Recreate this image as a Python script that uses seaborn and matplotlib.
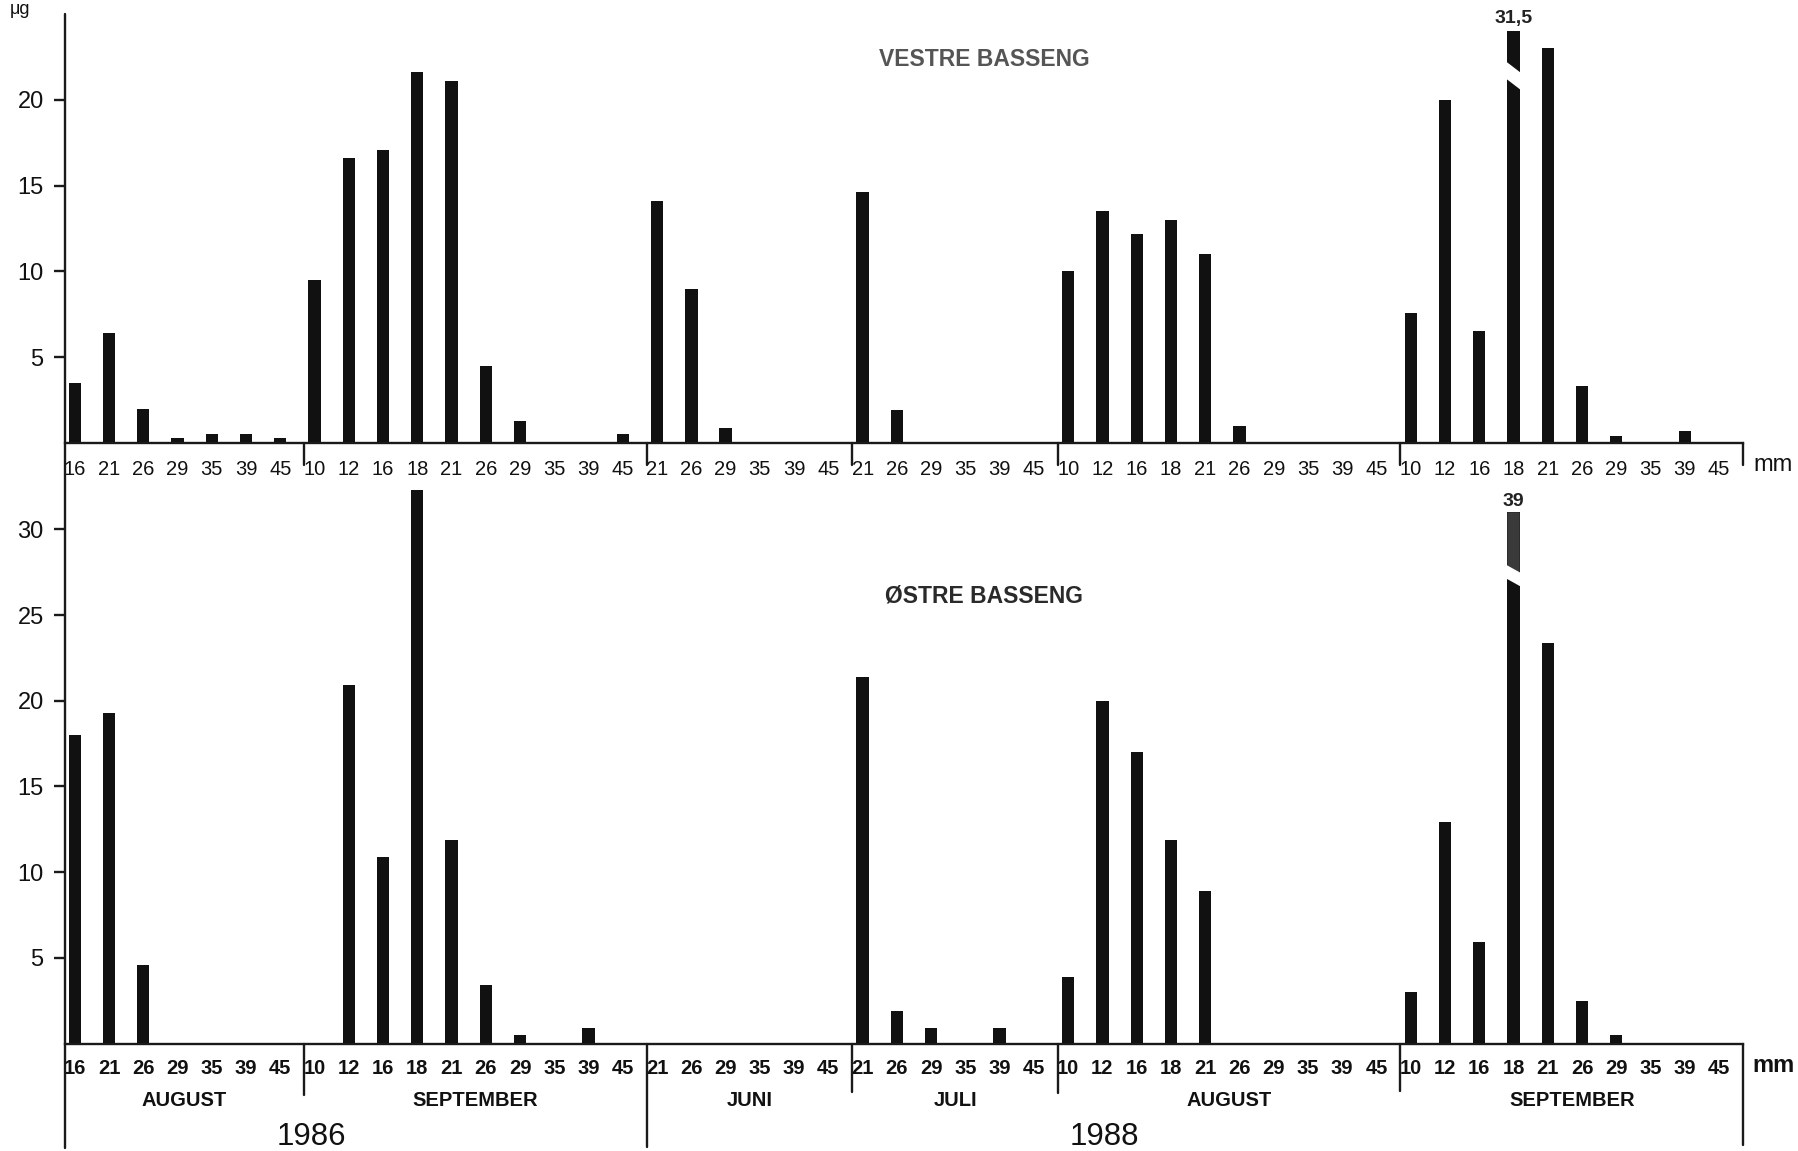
import matplotlib
matplotlib.use("Agg")
import numpy as np
import pandas as pd
import matplotlib.pyplot as plt
import seaborn as sns
from matplotlib.patches import Rectangle, Polygon
from matplotlib.lines import Line2D
from matplotlib.transforms import blended_transform_factory

# ---------------------------------------------------------------- data
# size classes (mm) sampled in each month
sizes_aug86 = ["16", "21", "26", "29", "35", "39", "45"]
sizes_sep86 = ["10", "12", "16", "18", "21", "26", "29", "35", "39", "45"]
sizes_jun88 = ["21", "26", "29", "35", "39", "45"]
sizes_jul88 = ["21", "26", "29", "35", "39", "45"]
sizes_aug88 = ["10", "12", "16", "18", "21", "26", "29", "35", "39", "45"]
sizes_sep88 = ["10", "12", "16", "18", "21", "26", "29", "35", "39", "45"]

months = ["AUGUST", "SEPTEMBER", "JUNI", "JULI", "AUGUST", "SEPTEMBER"]
years = ["1986", "1988"]

# Vestre basseng
vestre_aug86 = [3.5, 6.4, 2.0, 0.3, 0.5, 0.5, 0.3]
vestre_sep86 = [9.5, 16.6, 17.1, 21.6, 21.1, 4.5, 1.3, 0.0, 0.0, 0.5]
vestre_jun88 = [14.1, 9.0, 0.9, 0.0, 0.0, 0.0]
vestre_jul88 = [14.6, 1.9, 0.0, 0.0, 0.0, 0.0]
vestre_aug88 = [10.0, 13.5, 12.2, 13.0, 11.0, 1.0, 0.0, 0.0, 0.0, 0.0]
vestre_sep88 = [7.6, 20.0, 6.5, 31.5, 23.0, 3.3, 0.4, 0.0, 0.7, 0.0]

# Østre basseng
ostre_aug86 = [18.0, 19.3, 4.6, 0.0, 0.0, 0.0, 0.0]
ostre_sep86 = [0.0, 20.9, 10.9, 32.3, 11.9, 3.4, 0.5, 0.0, 0.9, 0.0]
ostre_jun88 = [0.0, 0.0, 0.0, 0.0, 0.0, 0.0]
ostre_jul88 = [21.4, 1.9, 0.9, 0.0, 0.9, 0.0]
ostre_aug88 = [3.9, 20.0, 17.0, 11.9, 8.9, 0.0, 0.0, 0.0, 0.0, 0.0]
ostre_sep88 = [3.0, 12.9, 5.9, 39.0, 23.4, 2.5, 0.5, 0.0, 0.0, 0.0]

groups = [sizes_aug86, sizes_sep86, sizes_jun88, sizes_jul88, sizes_aug88, sizes_sep88]
basins = {
    "VESTRE BASSENG": [vestre_aug86, vestre_sep86, vestre_jun88,
                       vestre_jul88, vestre_aug88, vestre_sep88],
    "ØSTRE BASSENG": [ostre_aug86, ostre_sep86, ostre_jun88,
                      ostre_jul88, ostre_aug88, ostre_sep88],
}

rows = []
for basin, series in basins.items():
    for g, (sizes, vals) in enumerate(zip(groups, series)):
        for s, v in zip(sizes, vals):
            rows.append(dict(basin=basin, slot=f"{g}-{s}", size=s, value=v))
df = pd.DataFrame(rows)
slots = [f"{g}-{s}" for g, sizes in enumerate(groups) for s in sizes]
size_labels = [s for sizes in groups for s in sizes]

# --------------------------------------------------------------- layout
W, H = 1798, 1151
sns.set_style("white")
plt.rcParams["font.family"] = ["Liberation Sans", "DejaVu Sans"]

fig = plt.figure(figsize=(W / 100, H / 100), dpi=100)


def fx(px):
    return px / W


def fy(py):
    return 1 - py / H


x_left, x_right = 64.5, 1743
panels = {
    "VESTRE BASSENG": dict(top=14, base=443, ymax=25.0, yticks=[5, 10, 15, 20],
                           weight="normal", title_y=60, title_color="#555555",
                           title_size=16.5, xpad=12.5),
    "ØSTRE BASSENG": dict(top=490, base=1043.5, ymax=32.3,
                          yticks=[5, 10, 15, 20, 25, 30],
                          weight="bold", title_y=596, title_color="#2a2a2a",
                          title_size=16.5, xpad=11),
}

# broken bars: drawn clipped at "cap" with a slanted gap
broken = {
    "VESTRE BASSENG": dict(slot="5-18", cap=24.0, gap=21.4, thick=1.0, drop=0.55,
                           upper="#111111", label_off=9.0),
    "ØSTRE BASSENG": dict(slot="5-18", cap=31.0, gap=27.3, thick=0.8, drop=0.4,
                          upper="#3a3a3a", label_off=8.0),
}

x_min, x_max = -0.3, len(slots) - 1 + 0.7
group_ends = np.cumsum([len(g) for g in groups]) - 1 + 0.7
edges = np.concatenate([[x_min], group_ends])

bar_color = "#111111"
line_color = "#1a1a1a"
lw = 1.7

for name, p in panels.items():
    ax = fig.add_axes([fx(x_left), fy(p["base"]), fx(x_right - x_left),
                       (p["base"] - p["top"]) / H])
    sub = df[df.basin == name]
    sns.barplot(data=sub, x="slot", y="value", order=slots, color=bar_color,
                saturation=1, width=0.36, errorbar=None, linewidth=0, ax=ax)
    ax.set_xlim(x_min, x_max)
    ax.set_ylim(0, p["ymax"])
    ax.set_xlabel("")
    ax.set_ylabel("")

    for side in ("top", "right", "left"):
        ax.spines[side].set_visible(False)
    ax.spines["bottom"].set_linewidth(lw)
    ax.spines["bottom"].set_color(line_color)

    ax.set_yticks(p["yticks"])
    ax.set_yticklabels([str(t) for t in p["yticks"]], fontsize=17, color="#111111")
    ax.tick_params(axis="y", left=True, length=8, width=lw, pad=7,
                   color=line_color, direction="out")
    ax.set_xticks(range(len(slots)))
    ax.set_xticklabels(size_labels, fontsize=14.5, fontweight=p["weight"],
                       color="#111111")
    ax.tick_params(axis="x", bottom=False, length=0, pad=p["xpad"])

    # slanted break on the tallest bar
    b = broken[name]
    idx = slots.index(b["slot"])
    bar = ax.patches[idx]
    x0, w = bar.get_x(), bar.get_width()
    x1 = x0 + w
    bar.set_clip_path(Rectangle((x0 - 1, 0), w + 2, b["cap"], transform=ax.transData))

    def edge(x, off):
        return b["gap"] + off + b["drop"] * (0.5 - (x - x0) / w)

    ax.add_patch(Polygon([(x0, edge(x0, b["thick"] / 2)), (x1, edge(x1, b["thick"] / 2)),
                          (x1, b["cap"]), (x0, b["cap"])],
                         closed=True, facecolor=b["upper"], edgecolor="none", zorder=3))
    xa, xb = x0 - 0.1 * w, x1 + 0.1 * w
    ax.add_patch(Polygon([(xa, edge(xa, b["thick"] / 2)), (xb, edge(xb, b["thick"] / 2)),
                          (xb, edge(xb, -b["thick"] / 2)), (xa, edge(xa, -b["thick"] / 2))],
                         closed=True, facecolor="white", edgecolor="none", zorder=4))
    value = sub.loc[sub.slot == b["slot"], "value"].iloc[0]
    ax.annotate(f"{value:g}".replace(".", ","), xy=(idx, b["cap"]),
                xytext=(0, b["label_off"]), textcoords="offset points",
                ha="center", va="center", fontsize=14, fontweight="bold",
                color="#222222", annotation_clip=False)

    # panel title
    fig.text(fx(984), fy(p["title_y"]), name, ha="center", va="center",
             fontsize=p["title_size"], fontweight="bold", color=p["title_color"])

    # unit label at the right end of the size axis
    fig.text(fx(1773), fy(p["base"] + 22), "mm", ha="center", va="center",
             fontsize=17, fontweight=p["weight"], color="#111111")

    p["ax"] = ax

# continuous vertical axis line through both panels
fig.add_artist(Line2D([fx(x_left), fx(x_left)], [fy(14), fy(1148)],
                      color=line_color, lw=lw, transform=fig.transFigure))

# month separators below each size axis
top_sep_end = 465
bottom_sep_end = [1095, 1147, 1092, 1093, 1091, 1145]
for name, p in panels.items():
    for k, e in enumerate(edges[1:]):
        xf = fx(x_left) + (e - x_min) / (x_max - x_min) * fx(x_right - x_left)
        end = top_sep_end if name == "VESTRE BASSENG" else bottom_sep_end[k]
        fig.add_artist(Line2D([xf, xf], [fy(p["base"]), fy(end)], color=line_color,
                              lw=lw, transform=fig.transFigure))

# month and year labels
axb = panels["ØSTRE BASSENG"]["ax"]
trans = blended_transform_factory(axb.transData, fig.transFigure)
for k, m in enumerate(months):
    xm = (edges[k] + edges[k + 1]) / 2
    axb.text(xm, fy(1101), m, transform=trans, ha="center", va="center",
             fontsize=14.5, fontweight="bold", color="#111111")
year_pos = [6.9, 30.06]
for y, xp in zip(years, year_pos):
    axb.text(xp, fy(1137), y, transform=trans, ha="center", va="center",
             fontsize=22.5, color="#111111")

# unit of the vertical axis
fig.text(fx(10), fy(1), "μg", ha="left", va="top", fontsize=13,
         color="#111111")

fig.savefig("out.png", dpi=100)
